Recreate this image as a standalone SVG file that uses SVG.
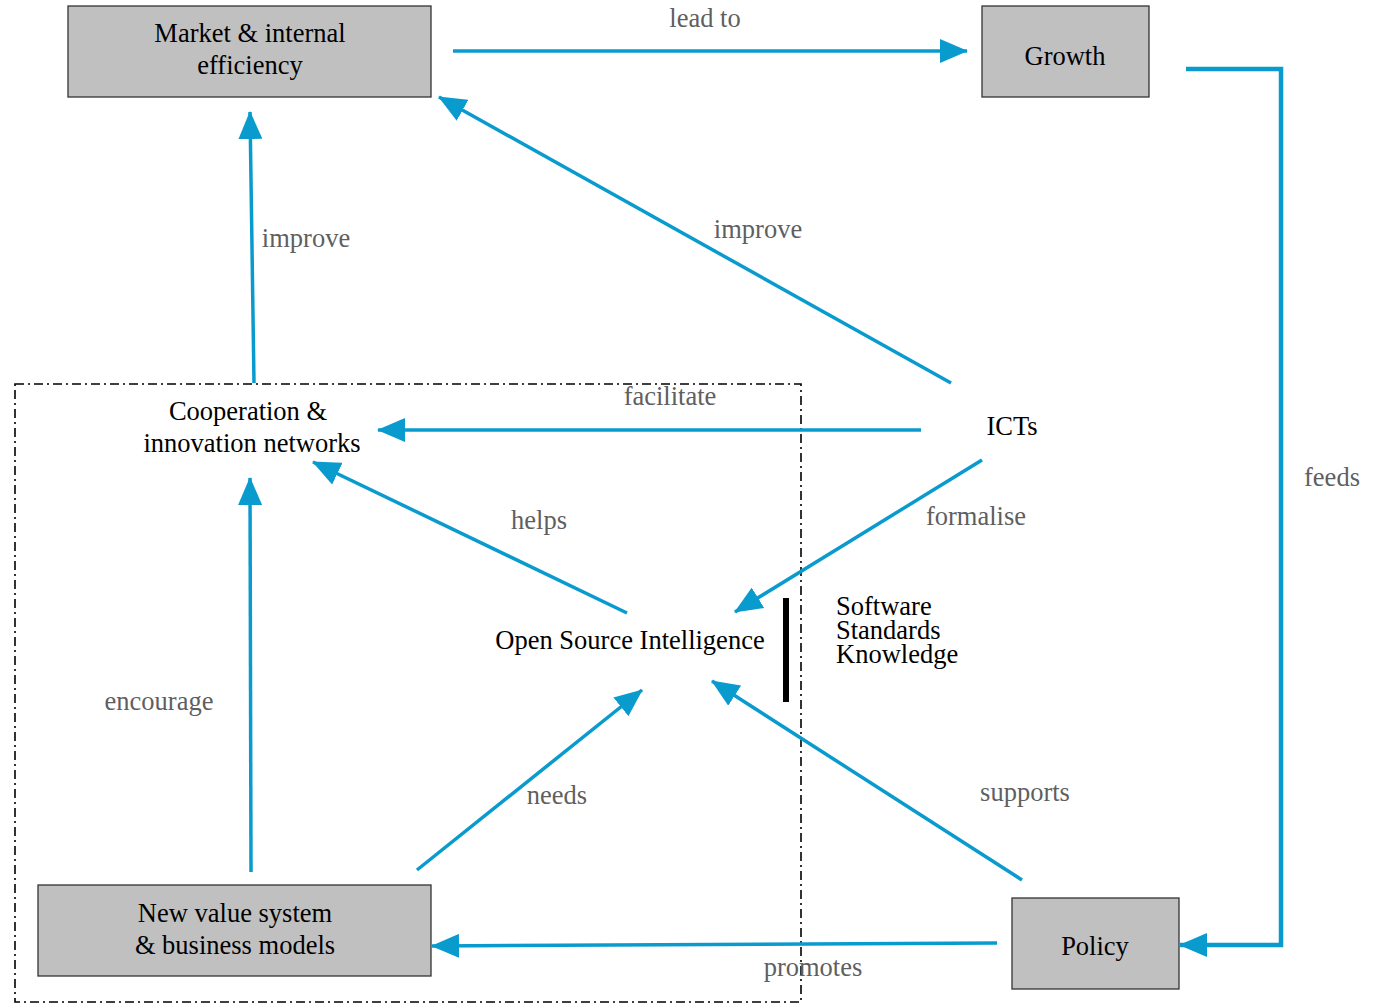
<svg xmlns="http://www.w3.org/2000/svg" width="1376" height="1005" viewBox="0 0 1376 1005">
<style>
.box{fill:#c0c0c0;stroke:#333;stroke-width:1.3}
.t{font-family:"Liberation Serif","Times New Roman",serif;font-size:26.5px;fill:#000;text-anchor:middle}
.l{font-family:"Liberation Serif","Times New Roman",serif;font-size:26.5px;fill:#5f5f5f;text-anchor:middle}
.s{font-family:"Liberation Serif","Times New Roman",serif;font-size:26.5px;fill:#000}
.c{fill:none;stroke:#0a9bce;stroke-width:3.5}
</style>
<defs>
<marker id="ah" viewBox="0 0 28 24" refX="27" refY="12" markerWidth="28" markerHeight="24" markerUnits="userSpaceOnUse" orient="auto">
<path d="M0,0 L28,12 L0,24 z" fill="#0a9bce"/>
</marker>
</defs>
<rect x="15" y="384" width="786" height="618" fill="none" stroke="#000" stroke-width="1.6" stroke-dasharray="9,4,2,4"/>
<g id="market"><rect class="box" x="68" y="6" width="363" height="91"/><text class="t" x="250" y="42">Market &amp; internal</text><text class="t" x="250" y="74">efficiency</text></g>
<g id="growth"><rect class="box" x="982" y="6" width="167" height="91"/><text class="t" x="1065" y="65">Growth</text></g>
<g id="policy"><rect class="box" x="1012" y="898" width="167" height="91"/><text class="t" x="1095" y="955">Policy</text></g>
<g id="newvalue"><rect class="box" x="38" y="885" width="393" height="91"/><text class="t" x="235" y="922">New value system</text><text class="t" x="235" y="954">&amp; business models</text></g>
<g id="coop"><text class="t" x="248" y="420">Cooperation &amp;</text><text class="t" x="252" y="452">innovation networks</text></g>
<g id="icts"><text class="t" x="1012" y="435">ICTs</text></g>
<g id="osi"><text class="t" x="630" y="649">Open Source Intelligence</text></g>
<g id="ssk"><rect x="783" y="598" width="6" height="104" fill="#000"/><text class="s" x="836" y="615">Software</text><text class="s" x="836" y="639">Standards</text><text class="s" x="836" y="663">Knowledge</text></g>
<g id="connectors">
<line class="c" x1="453" y1="51" x2="967" y2="51" marker-end="url(#ah)"/>
<polyline class="c" style="stroke-width:4.5" points="1186,69 1281,69 1281,945 1180,945" marker-end="url(#ah)"/>
<line class="c" x1="254" y1="383" x2="250" y2="112" marker-end="url(#ah)"/>
<line class="c" x1="951" y1="383" x2="439" y2="97" marker-end="url(#ah)"/>
<line class="c" x1="921" y1="430" x2="378" y2="430" marker-end="url(#ah)"/>
<line class="c" x1="982" y1="460" x2="735" y2="612" marker-end="url(#ah)"/>
<line class="c" x1="627" y1="613" x2="313" y2="462" marker-end="url(#ah)"/>
<line class="c" x1="251" y1="872" x2="250" y2="478" marker-end="url(#ah)"/>
<line class="c" x1="417" y1="870" x2="642" y2="690" marker-end="url(#ah)"/>
<line class="c" x1="1022" y1="880" x2="712" y2="681" marker-end="url(#ah)"/>
<line class="c" x1="997" y1="943" x2="432" y2="946" marker-end="url(#ah)"/>
</g>
<g id="labels">
<text class="l" x="705" y="27">lead to</text>
<text class="l" x="1332" y="486">feeds</text>
<text class="l" x="306" y="247">improve</text>
<text class="l" x="758" y="238">improve</text>
<text class="l" x="670" y="405">facilitate</text>
<text class="l" x="976" y="525">formalise</text>
<text class="l" x="539" y="529">helps</text>
<text class="l" x="159" y="710">encourage</text>
<text class="l" x="557" y="804">needs</text>
<text class="l" x="1025" y="801">supports</text>
<text class="l" x="813" y="976">promotes</text>
</g>
</svg>
